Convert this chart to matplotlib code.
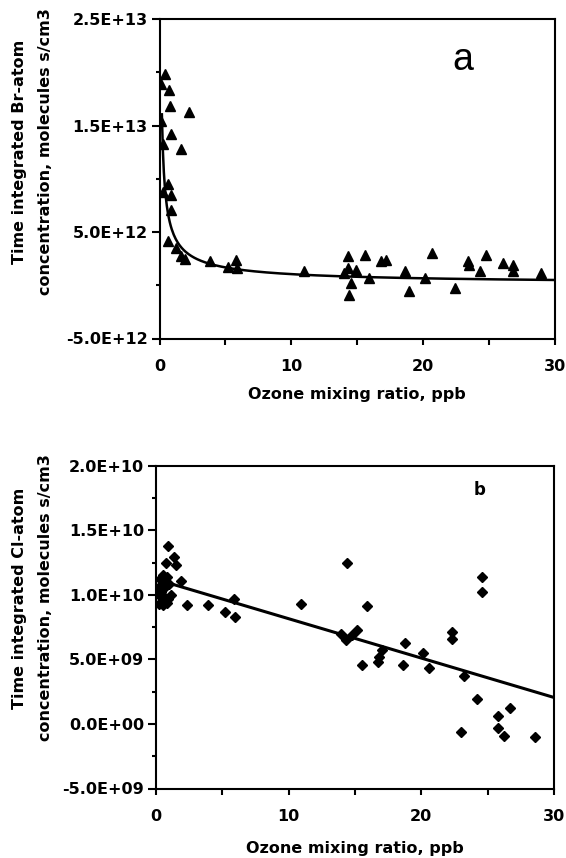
import numpy as np
import matplotlib
matplotlib.use("Agg")
import matplotlib.pyplot as plt
from matplotlib.ticker import FixedLocator, FixedFormatter

plt.rcParams['font.family'] = ['DejaVu Sans']

# ---------------- Panel a: Br-atom ----------------
br_x = [0.43, 0.10, 0.69, 0.76, 2.21, 0.12, 0.84, 0.25, 1.65, 0.63, 0.25, 0.84, 0.84,
        0.63, 1.27, 1.65, 1.90, 3.81, 5.20, 5.77, 5.85,
        10.93, 14.29, 14.29, 14.00, 14.87, 14.49, 14.36, 15.58, 15.89, 16.78, 17.16,
        18.63, 18.89, 20.16, 20.67, 22.45, 23.39, 23.50, 24.28, 24.74, 26.06, 26.82,
        26.82, 28.91]
br_y = [1.98e13, 1.89e13, 1.83e13, 1.68e13, 1.63e13, 1.54e13, 1.42e13, 1.33e13, 1.28e13,
        0.95e13, 0.876e13, 0.845e13, 0.705e13,
        4.16e12, 3.48e12, 2.70e12, 2.45e12, 2.30e12, 1.68e12, 2.33e12, 1.60e12,
        1.3e12, 2.7e12, 1.6e12, 1.15e12, 1.45e12, 0.2e12, -0.9e12, 2.85e12, 0.68e12,
        2.24e12, 2.4e12, 1.3e12, -0.56e12, 0.68e12, 3.0e12, -0.25e12, 2.24e12, 1.9e12,
        1.3e12, 2.85e12, 2.08e12, 1.92e12, 1.3e12, 1.15e12]
# power-law fit y = a * x^-b
br_fit_a = 5.0e12
br_fit_b = 0.68
br_fit_xmin = 0.18
br_yticks = [2.5e13, 1.5e13, 5.0e12, -5.0e12]
br_yticklabels = ['2.5E+13', '1.5E+13', '5.0E+12', '-5.0E+12']
br_yminor = [2.0e13, 1.0e13, 0.0]
br_ylabel = ['Time integrated Br-atom', 'concentration, molecules s/cm3']

# ---------------- Panel b: Cl-atom ----------------
cl_x = [0.93, 0.73, 1.36, 1.54, 14.4, 1.87, 24.58, 24.58, 5.87, 2.35, 3.94, 5.22, 5.92,
        10.9, 15.92, 15.17, 13.92, 14.3, 14.8, 22.3, 22.3, 18.8, 17.05, 16.8, 16.75,
        15.5, 18.6, 20.1, 20.55, 23.2, 24.2, 25.8, 25.8, 26.25, 26.7, 23.0, 28.6,
        0.3, 0.5, 0.8, 0.2, 0.45, 0.7, 1.0, 0.3, 0.6, 0.9, 0.25, 0.55, 0.85, 0.4, 1.1]
cl_y = [1.38e10, 1.25e10, 1.29e10, 1.23e10, 1.25e10, 1.11e10, 1.14e10, 1.02e10, 0.97e10,
        0.92e10, 0.92e10, 0.87e10, 0.825e10, 0.93e10, 0.91e10, 0.73e10, 0.70e10, 0.65e10,
        0.69e10, 0.71e10, 0.655e10, 0.63e10, 0.57e10, 0.52e10, 0.48e10, 0.46e10, 0.46e10,
        0.55e10, 0.43e10, 0.37e10, 0.19e10, 0.06e10, -0.03e10, -0.09e10, 0.12e10,
        -0.06e10, -0.1e10,
        1.12e10, 1.15e10, 1.14e10, 1.05e10, 1.08e10, 1.06e10, 1.08e10, 0.99e10, 0.98e10,
        0.97e10, 0.93e10, 0.92e10, 0.94e10, 1.02e10, 1.0e10]
# linear fit y = intercept + slope * x
cl_fit_intercept = 1.12e10
cl_fit_slope = -3.05e8
cl_yticks = [2.0e10, 1.5e10, 1.0e10, 5.0e9, 0.0, -5.0e9]
cl_yticklabels = ['2.0E+10', '1.5E+10', '1.0E+10', '5.0E+09', '0.0E+00', '-5.0E+09']
cl_yminor = [1.75e10, 1.25e10, 0.75e10, 0.25e10, -0.25e10]
cl_ylabel = ['Time integrated Cl-atom', 'concentration, molecules s/cm3']

x_ticks = [0, 10, 20, 30]
x_ticklabels = ['0', '10', '20', '30']
x_minor = [5, 15, 25]
x_label = 'Ozone mixing ratio, ppb'

W, H = 566, 858
fig = plt.figure(figsize=(W / 100, H / 100), dpi=100)

FS = 11.5


def style_axes(ax, yticks, yticklabels, yminor):
    for s in ax.spines.values():
        s.set_linewidth(1.5)
        s.set_color('black')
    ax.set_xlim(0, 30)
    ax.xaxis.set_major_locator(FixedLocator(x_ticks))
    ax.xaxis.set_major_formatter(FixedFormatter(x_ticklabels))
    ax.xaxis.set_minor_locator(FixedLocator(x_minor))
    ax.yaxis.set_major_locator(FixedLocator(yticks))
    ax.yaxis.set_major_formatter(FixedFormatter(yticklabels))
    ax.yaxis.set_minor_locator(FixedLocator(yminor))
    ax.tick_params(axis='x', which='both', direction='out', length=4, width=1.5,
                   pad=11, labelsize=FS)
    ax.tick_params(axis='y', which='major', direction='out', length=5.5, width=1.5,
                   pad=3, labelsize=FS)
    ax.tick_params(axis='y', which='minor', direction='out', length=3, width=1.5)
    for lab in ax.get_xticklabels() + ax.get_yticklabels():
        lab.set_fontweight('bold')
    ax.set_facecolor('white')


# ---- top axes ----
ax1 = fig.add_axes([159.5 / W, 1 - 338.5 / H, (555 - 159.5) / W, (338.5 - 19) / H])
ax1.set_ylim(-5.0e12, 2.5e13)
style_axes(ax1, br_yticks, br_yticklabels, br_yminor)
ax1.plot(br_x, br_y, linestyle='none', marker='^', markersize=7.3, color='black',
         markeredgewidth=1, zorder=3)
xf = np.linspace(br_fit_xmin, 30, 400)
ax1.plot(xf, br_fit_a * xf ** (-br_fit_b), color='black', linewidth=1.8, zorder=2)
ax1.text(0.767, 0.872, 'a', transform=ax1.transAxes, fontsize=27,
         family='Liberation Sans', ha='center', va='center')
ax1.set_xlabel(x_label, fontsize=FS, fontweight='bold')
ax1.xaxis.set_label_coords(0.5, -0.152)
ax1.xaxis.label.set_va('top')

# ---- bottom axes ----
ax2 = fig.add_axes([156 / W, 1 - 788.5 / H, (554 - 156) / W, (788.5 - 465.7) / H])
ax2.set_ylim(-5.0e9, 2.0e10)
style_axes(ax2, cl_yticks, cl_yticklabels, cl_yminor)
ax2.plot(cl_x, cl_y, linestyle='none', marker='D', markersize=5.6, color='black',
         markeredgewidth=1, zorder=3)
xl = np.array([0, 30])
ax2.plot(xl, cl_fit_intercept + cl_fit_slope * xl, color='black', linewidth=2.2, zorder=2)
ax2.text(0.814, 0.925, 'b', transform=ax2.transAxes, fontsize=12,
         fontweight='bold', ha='center', va='center')
ax2.set_xlabel(x_label, fontsize=FS, fontweight='bold')
ax2.xaxis.set_label_coords(0.5, -0.162)
ax2.xaxis.label.set_va('top')

# ---- y labels (two lines each) ----
for (cy, lines) in [(152, br_ylabel), (598, cl_ylabel)]:
    fig.text(20 / W, 1 - cy / H, lines[0], rotation=90, ha='center', va='center',
             fontsize=FS, fontweight='bold')
    fig.text(46 / W, 1 - cy / H, lines[1], rotation=90, ha='center', va='center',
             fontsize=FS, fontweight='bold')

fig.savefig('out.png', dpi=100, facecolor='white')
